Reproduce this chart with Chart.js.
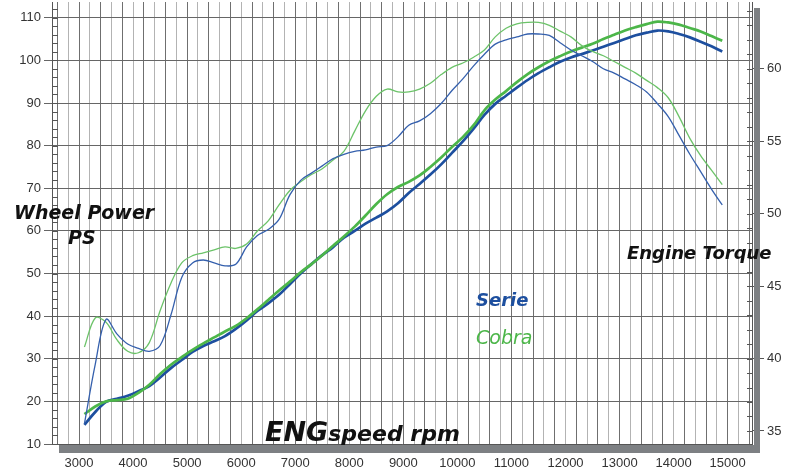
<!DOCTYPE html>
<html>
<head>
<meta charset="utf-8">
<script src="https://cdn.jsdelivr.net/npm/chart.js@4/dist/chart.umd.min.js"></script>
<style>
  html, body { margin: 0; padding: 0; background: #fff; }
  #wrap { width: 785px; height: 470px; }
</style>
</head>
<body>
<div id="wrap"><canvas id="dyno" width="785" height="470"></canvas></div>
<script>
// engine speed (rpm) where the curves were read
const rpm = [3100, 3300, 3500, 3700, 3900, 4100, 4300, 4500, 4700, 4900,
  5100, 5300, 5500, 5700, 5900, 6100, 6300, 6500, 6700, 6900,
  7100, 7300, 7500, 7700, 7900, 8100, 8300, 8500, 8700, 8900,
  9100, 9300, 9500, 9700, 9900, 10100, 10300, 10500, 10700, 10900,
  11100, 11300, 11500, 11700, 11900, 12100, 12300, 12500, 12700, 12900,
  13100, 13300, 13500, 13700, 13900, 14100, 14300, 14500, 14700, 14900]

// wheel power, PS
const seriePower = [14.5, 17.5, 19.9, 20.6, 21.3, 22.4, 23.6, 25.6, 27.8, 29.7,
  31.6, 33.0, 34.1, 35.3, 37.0, 39.0, 41.2, 43.0, 45.0, 47.5,
  50.0, 52.2, 54.3, 56.2, 58.4, 60.0, 61.7, 63.1, 64.6, 66.5,
  68.9, 71.0, 73.2, 75.6, 78.3, 81.0, 84.0, 87.2, 89.8, 91.7,
  93.6, 95.4, 97.0, 98.4, 99.7, 100.7, 101.5, 102.3, 103.2, 104.1,
  105.0, 105.9, 106.5, 107.0, 106.8, 106.2, 105.4, 104.4, 103.3, 102.1]
const cobraPower = [17.0, 18.8, 20.0, 20.3, 20.6, 22.0, 23.9, 26.4, 28.6, 30.4,
  32.1, 33.6, 35.0, 36.4, 37.7, 39.5, 41.6, 43.8, 46.0, 48.1,
  50.3, 52.2, 54.3, 56.5, 58.7, 61.0, 63.6, 66.3, 68.6, 70.3,
  71.5, 73.0, 75.0, 77.2, 79.7, 82.0, 84.8, 88.3, 90.8, 92.8,
  94.9, 96.8, 98.4, 99.8, 101.0, 102.1, 103.0, 103.9, 105.0, 106.0,
  107.0, 107.8, 108.5, 109.1, 108.9, 108.4, 107.6, 106.8, 105.7, 104.6]

// engine torque, Nm (right axis)
const serieTorque = [35.5, 39.6, 42.7, 41.7, 41.0, 40.7, 40.5, 40.9, 43.0, 45.6,
  46.6, 46.8, 46.6, 46.4, 46.5, 47.7, 48.5, 48.9, 49.6, 51.3,
  52.3, 52.8, 53.3, 53.8, 54.1, 54.3, 54.4, 54.6, 54.7, 55.3,
  56.1, 56.4, 56.9, 57.6, 58.5, 59.3, 60.2, 61.0, 61.7, 62.0,
  62.2, 62.4, 62.4, 62.3, 61.8, 61.3, 60.9, 60.5, 60.0, 59.7,
  59.3, 58.9, 58.4, 57.6, 56.7, 55.4, 54.1, 52.9, 51.7, 50.6]
const cobraTorque = [40.8, 42.8, 42.5, 41.3, 40.5, 40.4, 41.1, 43.3, 45.2, 46.6,
  47.1, 47.3, 47.5, 47.7, 47.6, 47.9, 48.8, 49.5, 50.6, 51.6,
  52.2, 52.7, 53.1, 53.7, 54.3, 55.7, 57.1, 58.1, 58.6, 58.4,
  58.4, 58.6, 59.0, 59.6, 60.1, 60.4, 60.8, 61.3, 62.2, 62.8,
  63.1, 63.2, 63.2, 63.0, 62.6, 62.2, 61.6, 61.2, 60.9, 60.5,
  60.1, 59.7, 59.2, 58.7, 58.0, 56.7, 55.2, 54.0, 53.0, 52.0]

// axis ticks
const rpmLabels = [3000, 4000, 5000, 6000, 7000, 8000, 9000, 10000, 11000, 12000, 13000, 14000, 15000]
const powerTicks = [10, 20, 30, 40, 50, 60, 70, 80, 90, 100, 110]
const torqueTicks = [35, 40, 45, 50, 55, 60]

const BLUE = '#1d4f9f'
const BLUE_THIN = '#3560ad'
const GREEN = '#4cb649'
const GREEN_THIN = '#6cc369'
const TICK_FONT = { family: '"Liberation Sans", Arial, sans-serif', size: 13 }

function pts (vals) {
  return rpm.map((r, i) => ({ x: r, y: vals[i] }))
}

// ticks every 200 rpm so every grid line comes from the scale
const rpmGrid = []
for (let r = 2600; r <= 15400; r += 200) rpmGrid.push(r)

const decor = {
  id: 'decor',
  beforeDraw (chart) {
    const c = chart.ctx
    c.save()
    c.fillStyle = '#fff'
    c.fillRect(0, 0, chart.width, chart.height)
    c.restore()
  },
  afterDraw (chart) {
    const c = chart.ctx
    const a = chart.chartArea
    const y = chart.scales.y
    const y1 = chart.scales.y1
    c.save()
    c.strokeStyle = '#555'
    c.lineWidth = 1
    c.beginPath()
    for (let v = 12; v <= 112; v += 2) {
      const py = Math.round(y.getPixelForValue(v)) + 0.5
      c.moveTo(a.left, py); c.lineTo(a.left + 6, py)
    }
    for (let v = 35; v <= 64; v += 1) {
      const py = Math.round(y1.getPixelForValue(v)) + 0.5
      c.moveTo(a.right - 5, py); c.lineTo(a.right, py)
    }
    c.stroke()
    // drop shadow of the plot frame
    c.fillStyle = '#7d8083'
    c.fillRect(a.right + 2, a.top + 6, 6, a.bottom - a.top + 3)
    c.fillRect(a.left + 7, a.bottom + 1, a.right - a.left + 1, 8)

    // titles and legend words
    c.fillStyle = '#111'
    c.textBaseline = 'alphabetic'
    c.font = 'italic bold 19px "DejaVu Sans"'
    c.fillText('Wheel Power', 14, 219)
    c.fillText('PS', 68, 244)
    c.font = 'italic bold 18px "DejaVu Sans"'
    c.fillText('Engine Torque', 627, 259)
    c.font = 'italic bold 27px "DejaVu Sans"'
    c.fillText('ENG', 265, 441)
    const w = c.measureText('ENG').width
    c.font = 'italic bold 22px "DejaVu Sans"'
    c.fillText('speed rpm', 265 + w, 441)
    c.fillStyle = BLUE
    c.font = 'italic bold 18px "DejaVu Sans"'
    c.fillText('Serie', 476, 306)
    c.fillStyle = GREEN
    c.font = 'italic 19px "DejaVu Sans"'
    c.fillText('Cobra', 476, 344)
    c.restore()
  }
}

new Chart(document.getElementById('dyno'), {
  type: 'line',
  data: {
    datasets: [
      { label: 'Serie torque', data: pts(serieTorque), yAxisID: 'y1', borderColor: BLUE_THIN, borderWidth: 1.3 },
      { label: 'Cobra torque', data: pts(cobraTorque), yAxisID: 'y1', borderColor: GREEN_THIN, borderWidth: 1.3 },
      { label: 'Cobra power', data: pts(cobraPower), yAxisID: 'y', borderColor: GREEN, borderWidth: 2.7 },
      { label: 'Serie power', data: pts(seriePower), yAxisID: 'y', borderColor: BLUE, borderWidth: 2.7 }
    ]
  },
  options: {
    responsive: false,
    animation: false,
    devicePixelRatio: 1,
    layout: { padding: { top: 2, left: 0, right: 0, bottom: 0 } },
    elements: { point: { radius: 0 }, line: { tension: 0.35, fill: false } },
    plugins: { legend: { display: false }, tooltip: { enabled: false } },
    scales: {
      x: {
        type: 'linear',
        min: 2500,
        max: 15450,
        afterBuildTicks: (s) => { s.ticks = rpmGrid.map(v => ({ value: v })) },
        afterFit: (s) => { s.height = 26; s.paddingLeft = 0; s.paddingRight = 0 },
        ticks: {
          autoSkip: false,
          maxRotation: 0,
          padding: 12,
          color: '#333',
          font: TICK_FONT,
          callback: (v) => rpmLabels.includes(v) ? String(v) : ''
        },
        grid: {
          drawTicks: false,
          color: (ctx) => (ctx.tick && ctx.tick.value % 400 === 200) ? '#6f6f6f' : '#b3b3b3',
          lineWidth: 1
        },
        border: { color: '#555' }
      },
      y: {
        position: 'left',
        min: 10,
        max: 113.7,
        afterBuildTicks: (s) => { s.ticks = powerTicks.map(v => ({ value: v })) },
        afterFit: (s) => { s.width = 52; s.paddingTop = 0; s.paddingBottom = 0 },
        ticks: { color: '#333', font: TICK_FONT, padding: 3 },
        grid: { color: '#666', lineWidth: 1, tickLength: 8 },
        border: { color: '#555' }
      },
      y1: {
        position: 'right',
        min: 34.10,
        max: 64.61,
        afterBuildTicks: (s) => { s.ticks = torqueTicks.map(v => ({ value: v })) },
        afterFit: (s) => { s.width = 33; s.paddingTop = 0; s.paddingBottom = 0 },
        ticks: { color: '#333', font: TICK_FONT, padding: 3 },
        grid: { drawOnChartArea: false, color: '#555', tickLength: 12 },
        border: { color: '#555' }
      }
    }
  },
  plugins: [decor]
})
</script>
</body>
</html>
